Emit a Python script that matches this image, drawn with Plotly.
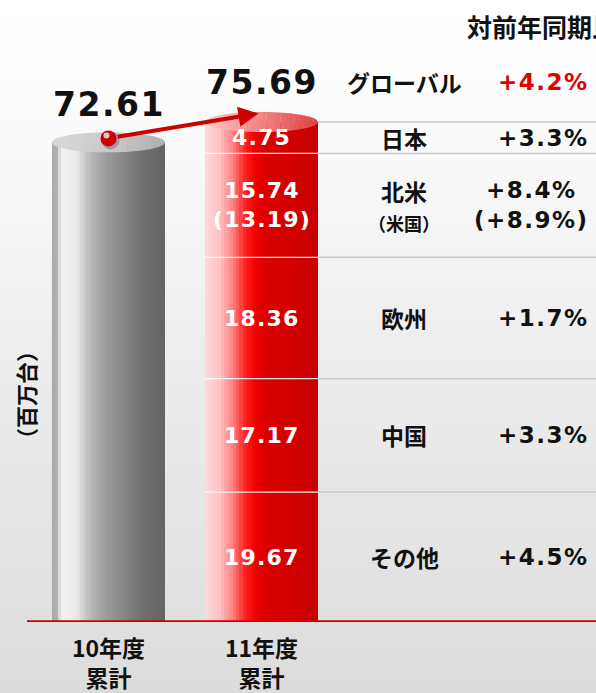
import math
import plotly.graph_objects as go

# ---------------- data ----------------
categories = ["10年度<br>累計", "11年度<br>累計"]
total_prev = 72.61
regions = ["その他", "中国", "欧州", "北米", "日本"]
region_values = [19.67, 17.17, 18.36, 15.74, 4.75]
region_growth = [4.5, 3.3, 1.7, 8.4, 3.3]
global_label = "グローバル"
global_growth = 4.2
us_label = "（米国）"
us_value = 13.19
us_growth = 8.9
header = "対前年同期比"
y_title = "（百万台）"

total_cur = round(sum(region_values), 2)

# ---------------- styling helpers ----------------
W, H = 596, 693
BASE_PX = 622
PX_PER_UNIT = 500 / total_cur
X_PX_PER_UNIT = 153.0
X0_PX = 108.5
BAR_W = 113 / X_PX_PER_UNIT
NUM_FONT = "DejaVu Sans, Noto Sans CJK JP, sans-serif"
JP_FONT = "Noto Sans CJK JP, sans-serif"


def sp(txt, ls):
    return "<span style='letter-spacing:%spx'>%s</span>" % (ls, txt)


def hex2rgb(h):
    h = h.lstrip("#")
    return tuple(int(h[i:i + 2], 16) for i in (0, 2, 4))


def grad(stops, t):
    for (t0, c0), (t1, c1) in zip(stops[:-1], stops[1:]):
        if t0 <= t <= t1:
            f = 0 if t1 == t0 else (t - t0) / (t1 - t0)
            a, b = hex2rgb(c0), hex2rgb(c1)
            c = [a[k] + (b[k] - a[k]) * f for k in range(3)]
            return "rgb(%d,%d,%d)" % tuple(round(v) for v in c)
    return stops[-1][1]


gray_stops = [(0.0, "#a8a8a8"), (0.06, "#b4b4b4"), (0.075, "#f2f2f2"), (0.22, "#e8e8e8"),
              (0.34, "#b8b8b8"), (0.48, "#9c9c9c"), (0.62, "#888888"), (0.8, "#707070"),
              (1.0, "#646464")]
red_stops = [(0.0, "#ffdada"), (0.12, "#ffc4c4"), (0.25, "#ff8080"), (0.36, "#ff1c1c"),
             (0.45, "#f20000"), (0.52, "#da0000"), (0.75, "#d40000"), (1.0, "#c60000")]

N = 36
fig = go.Figure()


def strips(center, stops):
    xs, cols = [], []
    for i in range(N):
        t = (i + 0.5) / N
        xs.append(center - BAR_W / 2 + t * BAR_W)
        cols.append(grad(stops, t))
    return xs, cols


# gray cylinder body
gx, gc = strips(0, gray_stops)
fig.add_trace(go.Bar(x=gx, y=[total_prev] * N, width=BAR_W / N * 1.08,
                     marker=dict(color=gc, line=dict(width=0)), hoverinfo="skip", showlegend=False))
# red stacked cylinder body
rx, rc = strips(1, red_stops)
base = 0.0
bases = []
for v in region_values:
    bases.append(base)
    fig.add_trace(go.Bar(x=rx, y=[v] * N, base=[base] * N, width=BAR_W / N * 1.08,
                         marker=dict(color=rc, line=dict(width=0)), hoverinfo="skip", showlegend=False))
    base += v
tops = [b + v for b, v in zip(bases, region_values)]

# ---------------- shapes ----------------
shapes = []
# background gradient
bg_stops = [(0.0, "#ffffff"), (0.15, "#fcfcfc"), (0.5, "#eeeeee"), (1.0, "#dcdcdc")]
NB = 50
for i in range(NB):
    p0 = i * H / NB
    p1 = (i + 1) * H / NB + 1
    shapes.append(dict(type="rect", xref="paper", yref="paper", x0=0, x1=1,
                       y0=(BASE_PX - p1) / BASE_PX, y1=(BASE_PX - p0) / BASE_PX,
                       fillcolor=grad(bg_stops, (i + 0.5) / NB), line=dict(width=0), layer="below"))

# cylinder top ellipses (sliced for gradient)
ELL_H = 10 / PX_PER_UNIT


def ellipse_slices(center, top, stops):
    out = []
    M = 24
    a = BAR_W / 2
    for i in range(M):
        xa = -a + i * 2 * a / M
        xb = min(-a + (i + 1) * 2 * a / M + 0.002, a)
        pts_up, pts_dn = [], []
        K = 4
        for k in range(K + 1):
            xx = xa + (xb - xa) * k / K
            yy = ELL_H * math.sqrt(max(0.0, 1 - (xx / a) ** 2))
            pts_up.append((center + xx, top + yy))
            pts_dn.append((center + xx, top - yy))
        pts = pts_up + pts_dn[::-1]
        path = "M " + " L ".join("%.5f,%.5f" % p for p in pts) + " Z"
        out.append(dict(type="path", xref="x", yref="y", path=path,
                        fillcolor=grad(stops, (i + 0.5) / M), line=dict(width=0), layer="above"))
    return out


gray_top_stops = [(0.0, "#d8d8d8"), (0.5, "#cacaca"), (1.0, "#b0b0b0")]
red_top_stops = [(0.0, "#fbc8c8"), (0.4, "#f59090"), (1.0, "#e04040")]
shapes += ellipse_slices(0, total_prev, gray_top_stops)
shapes += ellipse_slices(1, total_cur, red_top_stops)

# white separators in red bar, gray table lines
for t in tops[:-1]:
    shapes.append(dict(type="line", xref="x", yref="y", x0=1 - BAR_W / 2, x1=1 + BAR_W / 2, y0=t, y1=t,
                       line=dict(color="rgba(255,255,255,0.9)", width=1.2), layer="above"))
x_right = (W - X0_PX) / X_PX_PER_UNIT
for t in tops:
    shapes.append(dict(type="line", xref="x", yref="y", x0=1 + BAR_W / 2, x1=x_right, y0=t, y1=t,
                       line=dict(color="#c8c8c8", width=1.5), layer="above"))
# baseline
shapes.append(dict(type="line", xref="paper", yref="y", x0=27 / W, x1=1, y0=0, y1=0,
                   line=dict(color="#cc0000", width=3.5), layer="above"))

# ball on the gray cylinder (pixel-sized, anchored at data point)
ball_y = total_prev + 0.6
for (dx, dy, r, col) in [(2, -2, 9, "rgba(150,150,150,0.9)"), (0, 0, 8, "#d00000"),
                         (-2, 3, 3, "rgba(255,255,255,0.75)")]:
    shapes.append(dict(type="circle", xref="x", yref="y", xsizemode="pixel", ysizemode="pixel",
                       xanchor=0, yanchor=ball_y, x0=dx - r, x1=dx + r, y0=dy - r, y1=dy + r,
                       fillcolor=col, line=dict(width=0), layer="above"))

annotations = []
annotations.append(dict(x=0.98, y=total_cur + 1.3, ax=0.05, ay=total_prev + 0.8, xref="x", yref="y",
                        axref="x", ayref="y", showarrow=True, arrowhead=2, arrowsize=1.0, arrowwidth=4,
                        arrowcolor="#cc0000", text="", standoff=0, startstandoff=0))

# totals
annotations.append(dict(x=0, y=total_prev, xref="x", yref="y", yshift=38, showarrow=False,
                        text="<b>%s</b>" % sp("%.2f" % total_prev, 1.5),
                        font=dict(family=NUM_FONT, size=33, color="#111111")))
annotations.append(dict(x=1, y=total_cur, xref="x", yref="y", yshift=40, showarrow=False,
                        text="<b>%s</b>" % sp("%.2f" % total_cur, 1.5),
                        font=dict(family=NUM_FONT, size=33, color="#111111")))

# segment values
for name, b, v in zip(regions, bases, region_values):
    txt = "<b>%s</b>" % sp("%.2f" % v, 1.2)
    if name == "北米":
        txt = "<b>%s<br>%s</b>" % (sp("%.2f" % v, 1.2), sp("(%.2f)" % us_value, 1.2))
    annotations.append(dict(x=1, y=b + v / 2, xref="x", yref="y", showarrow=False, text=txt,
                            xanchor="center", yanchor="middle",
                            font=dict(family=NUM_FONT, size=22, color="white")))

# table
NAME_X = 404 / W
PCT_X = 591 / W
for name, b, v, g in zip(regions, bases, region_values, region_growth):
    ntxt = "<b>%s</b>" % name
    ptxt = "<b>%s</b>" % sp("+%.1f%%" % g, 1.5)
    if name == "北米":
        ntxt = "<b>%s</b><br><b><span style='font-size:18px'>%s</span></b>" % (name, us_label)
        ptxt = "<b>%s<br>%s</b>" % (sp("+%.1f%%" % g, 1.5), sp("(+%.1f%%)" % us_growth, 1.5))
    annotations.append(dict(x=NAME_X, y=b + v / 2, xref="paper", yref="y", showarrow=False, text=ntxt,
                            xanchor="center", yanchor="middle",
                            font=dict(family=JP_FONT, size=23, color="#111111")))
    annotations.append(dict(x=PCT_X, y=b + v / 2, xref="paper", yref="y", showarrow=False, text=ptxt,
                            xanchor="right", yanchor="middle",
                            font=dict(family=NUM_FONT, size=23, color="#111111")))
annotations.append(dict(x=NAME_X, y=total_cur, xref="paper", yref="y", yshift=40, showarrow=False,
                        xanchor="center", yanchor="middle",
                        text="<b>%s</b>" % global_label, font=dict(family=JP_FONT, size=23, color="#111111")))
annotations.append(dict(x=PCT_X, y=total_cur, xref="paper", yref="y", yshift=40, showarrow=False,
                        xanchor="right", yanchor="middle", text="<b>%s</b>" % sp("+%.1f%%" % global_growth, 1.5),
                        font=dict(family=NUM_FONT, size=23, color="#e00000")))
annotations.append(dict(x=465 / W, y=(BASE_PX - 26) / BASE_PX, xref="paper", yref="paper", showarrow=False,
                        xanchor="left", yanchor="middle", text="<b>%s</b>" % header,
                        font=dict(family=JP_FONT, size=25, color="#111111")))
annotations.append(dict(x=25 / W, y=(BASE_PX - 395) / BASE_PX, xref="paper", yref="paper", showarrow=False,
                        xanchor="center", yanchor="middle",
                        textangle=-90, text="<b>%s</b>" % y_title,
                        font=dict(family=JP_FONT, size=22, color="#111111")))

fig.update_layout(
    template="none",
    width=W, height=H, autosize=False,
    margin=dict(l=0, r=0, t=0, b=H - BASE_PX, pad=0),
    paper_bgcolor="white", plot_bgcolor="rgba(0,0,0,0)",
    barmode="overlay", bargap=0,
    showlegend=False,
    shapes=shapes, annotations=annotations,
    xaxis=dict(range=[-X0_PX / X_PX_PER_UNIT, x_right], tickvals=[0, 1], ticktext=categories,
               showgrid=False, zeroline=False, showline=False, ticks="", automargin=False,
               ticklabelstandoff=11,
               tickfont=dict(family=JP_FONT, size=23, color="#111111", weight="bold")),
    yaxis=dict(range=[0, BASE_PX / PX_PER_UNIT], showgrid=False, zeroline=False, showline=False,
               showticklabels=False, ticks="", automargin=False),
)

fig.write_html("out.html", config={"displayModeBar": False},
               post_script="document.body.style.margin='0';")
